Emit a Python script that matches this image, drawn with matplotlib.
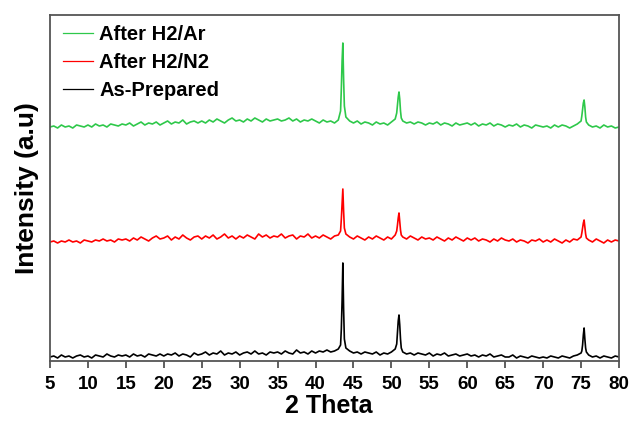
import numpy as np
import matplotlib
matplotlib.use("Agg")
import matplotlib.pyplot as plt

plt.rcParams['font.family'] = ['Liberation Sans', 'DejaVu Sans']
plt.rcParams['font.weight'] = 'bold'

# 2-theta sampling (degrees): coarse grid with finer sampling around the peaks
two_theta = np.concatenate([
    np.arange(5.0, 43.01, 0.5),
    [43.3, 43.4, 43.5, 43.6, 43.7, 43.8],
    np.arange(44.0, 50.51, 0.5),
    [50.7, 50.8, 50.9, 51.0, 51.1, 51.2, 51.3],
    np.arange(51.5, 75.01, 0.5),
    [75.1, 75.2, 75.3, 75.4, 75.5, 75.6, 75.7],
    np.arange(76.0, 80.01, 0.5),
])

as_prepared = [
    4, 5, 3, 6, 4, 5, 3, 5, 6, 4,
    5, 3, 6, 5, 4, 7, 5, 4, 6, 5,
    6, 4, 7, 5, 6, 4, 7, 6, 5, 7,
    5, 7, 6, 8, 5, 7, 6, 4, 8, 6,
    7, 9, 6, 8, 7, 10, 6, 8, 7, 9,
    6, 8, 9, 7, 10, 7, 8, 6, 9, 8,
    9, 7, 10, 8, 7, 11, 8, 9, 7, 10,
    8, 10, 9, 11, 9, 10, 12,
    16, 32, 60, 98, 52, 22,
    13, 10, 8, 9, 7, 9, 8, 7, 9, 6, 8, 7, 9, 12,
    17, 28, 40, 46, 36, 22, 13,
    9, 7, 8, 6, 8, 7, 6, 8,
    5, 7, 6, 8, 5, 6, 7, 5, 6, 7,
    5, 6, 4, 6, 5, 7, 4, 5, 6, 4,
    4, 6, 3, 5, 4, 3, 5, 4, 3, 4,
    3, 5, 4, 3, 5, 4, 3, 5, 6, 8,
    10, 16, 26, 33, 22, 13, 9,
    6, 4, 5, 3, 5, 4, 3, 5, 4,
]

after_h2_n2 = [
    119, 120, 118, 120, 119, 121, 119, 120, 118, 121,
    120, 119, 121, 120, 122, 120, 121, 119, 122, 121,
    122, 120, 123, 121, 124, 122, 120, 123, 125, 122,
    123, 125, 121, 124, 122, 126, 123, 121, 124, 125,
    122, 125, 123, 126, 122, 124, 127, 123, 125, 122,
    125, 123, 126, 124, 122, 127, 124, 126, 123, 125,
    124, 127, 123, 125, 126, 122, 125, 124, 127, 123,
    125, 123, 126, 124, 122, 125, 126,
    130, 142, 158, 172, 150, 133,
    127, 124, 122, 125, 123, 121, 124, 122, 125, 123, 121, 124, 122, 126,
    130, 136, 143, 148, 140, 131, 126,
    124, 122, 125, 123, 121, 124, 122, 123,
    121, 124, 122, 120, 123, 121, 124, 122, 120, 123,
    121, 123, 120, 122, 121, 119, 122, 120, 123, 121,
    120, 122, 119, 121, 120, 118, 121, 120, 122, 119,
    121, 119, 122, 120, 118, 121, 119, 122, 121, 124,
    128, 133, 138, 141, 134, 127, 123,
    121, 119, 122, 120, 118, 121, 119, 121, 120,
]

after_h2_ar = [
    234, 235, 233, 236, 234, 235, 233, 236, 235, 234,
    236, 234, 237, 235, 236, 234, 237, 236, 235, 237,
    236, 238, 235, 237, 239, 236, 238, 237, 239, 236,
    238, 240, 237, 239, 238, 241, 237, 239, 240, 238,
    240, 238, 241, 239, 242, 240, 238, 241, 243, 240,
    241, 239, 242, 240, 243, 241, 239, 242, 240, 241,
    242, 240, 241, 243, 240, 242, 239, 241, 240, 242,
    240, 238, 241, 239, 240, 238, 241,
    250, 272, 300, 318, 282, 255,
    244, 240, 238, 240, 237, 239, 238, 236, 239, 237, 238, 236, 239, 242,
    248, 256, 264, 269, 262, 250, 243,
    240, 238, 239, 237, 239, 238, 236, 238,
    237, 239, 236, 238, 237, 235, 238, 236, 237, 238,
    236, 238, 235, 237, 236, 238, 235, 237, 236, 234,
    236, 235, 237, 234, 236, 235, 233, 236, 235, 234,
    235, 233, 236, 234, 236, 235, 233, 235, 237, 240,
    245, 252, 258, 261, 254, 244, 239,
    236, 234, 235, 233, 236, 234, 235, 233, 234,
]

labels = ["After H2/Ar", "After H2/N2", "As-Prepared"]
xticks = list(range(5, 81, 5))

fig = plt.figure(figsize=(6.33, 4.26), dpi=100)
ax = fig.add_axes([50/633, 65/426, 569/633, 346/426])

ax.plot(two_theta, after_h2_ar, color='#2ec84a', lw=1.2, label=labels[0])
ax.plot(two_theta, after_h2_n2, color='#ff0000', lw=1.2, label=labels[1])
ax.plot(two_theta, as_prepared, color='#000000', lw=1.2, label=labels[2])

ax.set_xlim(5, 80)
ax.set_ylim(0, 346)
ax.set_xticks(xticks)
ax.set_xticklabels([str(t) for t in xticks], fontsize=13.5, fontweight='bold')
ax.set_yticks([])
ax.tick_params(axis='x', direction='out', length=5, width=1.2, color='#444444', pad=6)
for s in ax.spines.values():
    s.set_color('#555555')
    s.set_linewidth(1.3)

ax.set_xlabel("2 Theta", fontsize=18, fontweight='bold')
ax.xaxis.set_label_coords(0.49, -0.095)
ax.set_ylabel("Intensity (a.u)", fontsize=19, fontweight='bold', labelpad=8)

leg = ax.legend(loc='upper left', bbox_to_anchor=(0.007, 0.997), frameon=False,
                handlelength=1.5, handletextpad=0.3, labelspacing=0.45,
                borderaxespad=0.05, prop={'weight': 'bold', 'size': 14.5})
for line in leg.get_lines():
    line.set_linewidth(0.9)

fig.savefig("out.png", dpi=100)
